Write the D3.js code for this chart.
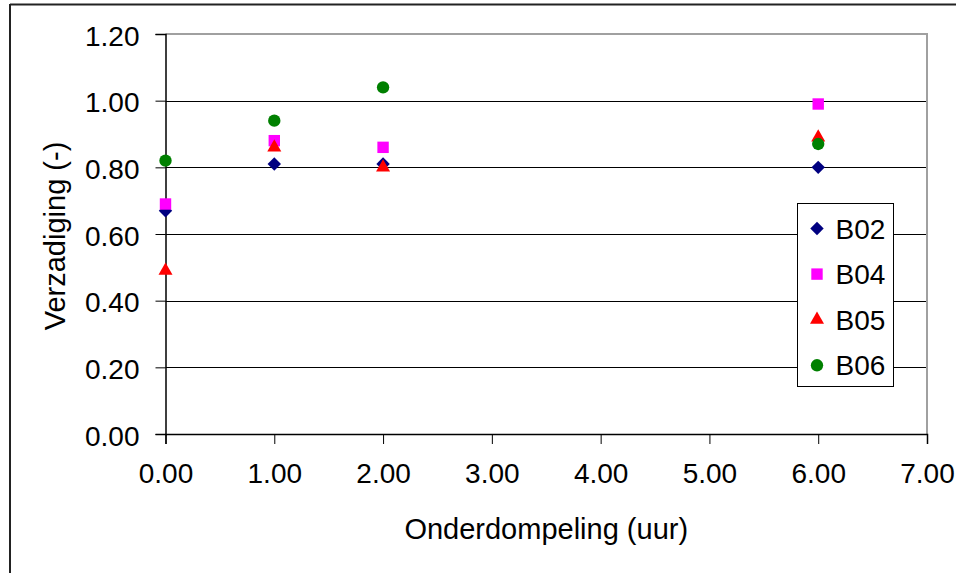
<!DOCTYPE html>
<html>
<head>
<meta charset="utf-8">
<script src="https://cdn.jsdelivr.net/npm/d3@7"></script>
<style>
  body { margin: 0; background: #fff; }
  text { font-family: "Liberation Sans", Arial, sans-serif; fill: #000; }
</style>
</head>
<body>
<div id="viz"></div>
<script>
// data
var hours = [0, 1, 2, 6];
var seriesNames = ["B02", "B04", "B05", "B06"];
var b02 = [0.67, 0.81, 0.81, 0.80];
var b04 = [0.69, 0.88, 0.86, 0.99];
var b05 = [0.49, 0.86, 0.80, 0.89];
var b06 = [0.82, 0.94, 1.04, 0.87];
var xTicks = [0, 1, 2, 3, 4, 5, 6, 7];
var yTicks = [0, 0.2, 0.4, 0.6, 0.8, 1.0, 1.2];

var colors = ["#000080", "#ff00ff", "#ff0000", "#008000"];
var shapes = [d3.symbolSquare, d3.symbolSquare, d3.symbolTriangle, d3.symbolCircle];
var sizes = [90, 130, 85, 120];
var rotate = [45, 0, 0, 0];
var allValues = [b02, b04, b05, b06];

var width = 956, height = 573;
// plot area edges (not named top/left: those clash with window globals)
var plotL = 165.5, plotT = 34, plotR = 927, plotB = 434;

var svg = d3.select("#viz").append("svg")
  .attr("width", width)
  .attr("height", height);

// outer frame (only top and left visible)
svg.append("line").attr("x1", 10).attr("x2", width).attr("y1", 4.5).attr("y2", 4.5)
  .attr("stroke", "#222").attr("stroke-width", 2);
svg.append("line").attr("x1", 10).attr("x2", 10).attr("y1", 4).attr("y2", height)
  .attr("stroke", "#222").attr("stroke-width", 2);

var x = d3.scaleLinear().domain([0, 7]).range([plotL, plotR]);
var y = d3.scaleLinear().domain([0, 1.2]).range([plotB, plotT]);

// gridlines
svg.append("g")
  .selectAll("line")
  .data(yTicks.filter(function(d) { return d > 0 && d < 1.2; }))
  .enter().append("line")
  .attr("x1", plotL).attr("x2", plotR)
  .attr("y1", function(d) { return Math.round(y(d)) + 0.5; })
  .attr("y2", function(d) { return Math.round(y(d)) + 0.5; })
  .attr("stroke", "#000").attr("stroke-width", 1);

// plot border top/right in gray
svg.append("path")
  .attr("d", "M" + plotL + "," + plotT + "H" + plotR + "V" + plotB)
  .attr("fill", "none").attr("stroke", "#a0a0a0").attr("stroke-width", 2);

// axes
var xAxis = svg.append("g")
  .attr("transform", "translate(0," + plotB + ")")
  .call(d3.axisBottom(x).tickValues(xTicks).tickFormat(d3.format(".2f")).tickSize(10).tickPadding(14));
var yAxis = svg.append("g")
  .attr("transform", "translate(" + plotL + ",0)")
  .call(d3.axisLeft(y).tickValues(yTicks).tickFormat(d3.format(".2f")).tickSize(10).tickPadding(16));

[xAxis, yAxis].forEach(function(ax) {
  ax.select(".domain").attr("stroke", "#000").attr("stroke-width", 1.5);
  ax.selectAll(".tick line").attr("stroke", "#000");
  ax.selectAll("text").style("font-size", "28px").style("font-family", '"Liberation Sans", Arial, sans-serif').attr("fill", "#000");
});
xAxis.selectAll(".tick text").attr("dy", "0.9em");
yAxis.selectAll(".tick text").attr("dy", "0.4em");

// axis titles
svg.append("text")
  .attr("x", (plotL + plotR) / 2)
  .attr("y", 539)
  .attr("text-anchor", "middle")
  .style("font-size", "29px")
  .text("Onderdompeling (uur)");
svg.append("text")
  .attr("transform", "translate(65,236) rotate(-90)")
  .attr("text-anchor", "middle")
  .style("font-size", "29px")
  .text("Verzadiging (-)");

// points
allValues.forEach(function(vals, s) {
  svg.append("g")
    .selectAll("path")
    .data(vals)
    .enter().append("path")
    .attr("d", d3.symbol().type(shapes[s]).size(sizes[s]))
    .attr("transform", function(d, i) {
      return "translate(" + x(hours[i]) + "," + y(d) + ") rotate(" + rotate[s] + ")";
    })
    .attr("fill", colors[s]);
});

// legend
var legend = svg.append("g").attr("transform", "translate(797.5,203.5)");
legend.append("rect")
  .attr("width", 96).attr("height", 183)
  .attr("fill", "#fff").attr("stroke", "#000").attr("stroke-width", 1);
var items = legend.selectAll("g.item")
  .data(seriesNames)
  .enter().append("g")
  .attr("class", "item")
  .attr("transform", function(d, i) { return "translate(0," + (25 + i * 45.6) + ")"; });
items.append("path")
  .attr("d", function(d, i) { return d3.symbol().type(shapes[i]).size(sizes[i])(); })
  .attr("transform", function(d, i) { return "translate(19.5,0) rotate(" + rotate[i] + ")"; })
  .attr("fill", function(d, i) { return colors[i]; });
items.append("text")
  .attr("x", 38)
  .attr("y", 10)
  .style("font-size", "28px")
  .text(function(d) { return d; });
</script>
</body>
</html>
